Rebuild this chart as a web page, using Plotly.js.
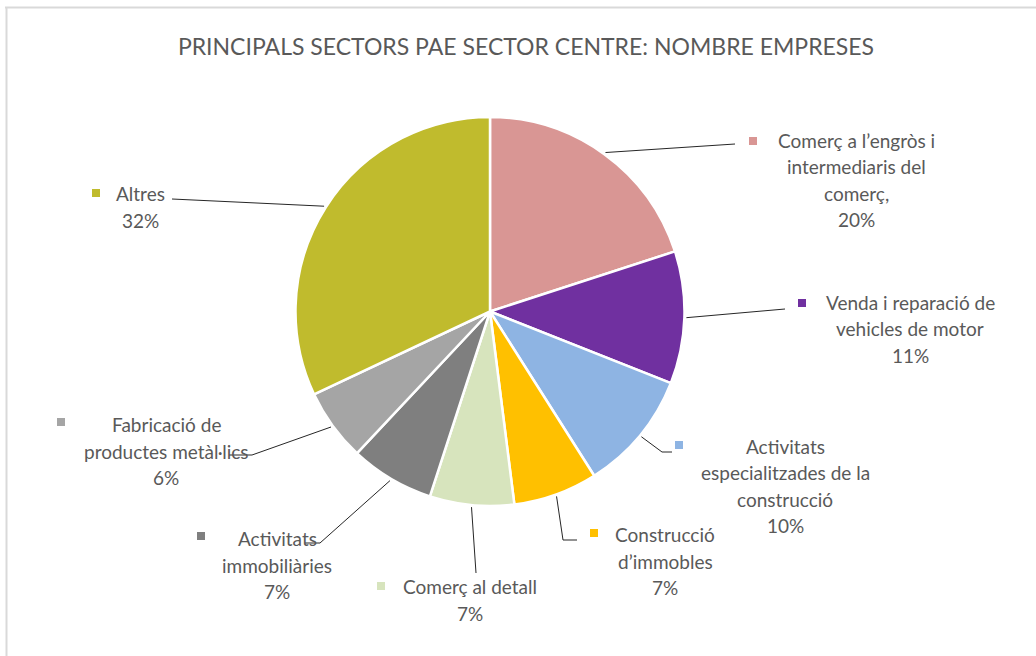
<!DOCTYPE html>
<html>
<head>
<meta charset="utf-8">
<script src="https://cdn.plot.ly/plotly-3.0.1.min.js"></script>
<style>html,body{margin:0;padding:0;background:#fff;}#chart{width:1036px;height:656px;}</style>
</head>
<body>
<div id="chart"></div>
<script>
// ---- data ----
const categories = [
  "Comerç a l’engròs i<br>intermediaris del<br>comerç,",
  "Venda i reparació de<br>vehicles de motor",
  "Activitats<br>especialitzades de la<br>construcció",
  "Construcció<br>d’immobles",
  "Comerç al detall",
  "Activitats<br>immobiliàries",
  "Fabricació de<br>productes metàl·lics",
  "Altres"
];
const values = [20, 11, 10, 7, 7, 7, 6, 32];
const colors = ["#D99694", "#7030A0", "#8EB4E3", "#FFC000", "#D7E4BD", "#7F7F7F", "#A5A5A5", "#C0BB2D"];
const titleText = "PRINCIPALS SECTORS PAE SECTOR CENTRE: NOMBRE EMPRESES";

// ---- layout constants (pixels) ----
const W = 1036, H = 656;
const CX = 490, CY = 311.5, R = 194.5;
const FONT = "Lato, 'Open Sans', sans-serif";
const TXT = "#595959";
const LH = 26.5;
// label block centers, legend-key positions, leader-line waypoints
const labelPos = [[856,180],[910,329],[785,486],[665,561],[470,600],[277,565],[166,451],[140,207]];
const keyPos = [[753,141],[802,303],[679,445],[594,533],[381,586],[201,536],[61,422],[96,193]];
const leaderPts = [
  [[735,144]],
  [[785,309]],
  [[662,452],[672,452]],
  [[563,540],[577,540]],
  [[476,573]],
  [[320,543],[305,543]],
  [[252,455],[229,455]],
  [[172,199]]
];

const px = x => x / W;
const py = y => 1 - y / H;

const total = values.reduce((a, b) => a + b, 0);

const trace = {
  type: "pie",
  values: values,
  labels: categories.map(c => c.replace(/<br>/g, " ")),
  sort: false,
  direction: "clockwise",
  rotation: 0,
  textinfo: "none",
  hoverinfo: "label+percent",
  marker: { colors: colors, line: { color: "#ffffff", width: 2.5 } },
  domain: { x: [px(CX - R), px(CX + R)], y: [py(CY + R), py(CY - R)] },
  showlegend: false
};

const annotations = [];
const shapes = [];

// frame
shapes.push({ type: "line", xref: "paper", yref: "paper", x0: px(5), x1: px(W), y0: py(7.5), y1: py(7.5), line: { color: "#D9D9D9", width: 2 } });
shapes.push({ type: "line", xref: "paper", yref: "paper", x0: px(6.5), x1: px(6.5), y0: py(7), y1: py(H), line: { color: "#D9D9D9", width: 2 } });

let cum = 0;
values.forEach((v, i) => {
  const mid = (cum + v / 2) / total * 2 * Math.PI;
  cum += v;
  // leader line start on slice edge
  const r0 = R + 2;
  let pts = [[CX + r0 * Math.sin(mid), CY - r0 * Math.cos(mid)]].concat(leaderPts[i]);
  for (let k = 0; k < pts.length - 1; k++) {
    shapes.push({ type: "line", xref: "paper", yref: "paper",
      x0: px(pts[k][0]), y0: py(pts[k][1]), x1: px(pts[k+1][0]), y1: py(pts[k+1][1]),
      line: { color: "#262626", width: 1 } });
  }
  // label lines
  const lines = categories[i].split("<br>").concat([Math.round(v / total * 100) + "%"]);
  const n = lines.length;
  lines.forEach((t, k) => {
    annotations.push({ xref: "paper", yref: "paper",
      x: px(labelPos[i][0]), y: py(labelPos[i][1] + (k - (n - 1) / 2) * LH),
      xanchor: "center", yanchor: "middle", showarrow: false, text: t,
      font: { family: FONT, size: 19, color: TXT } });
  });
  // legend key square
  shapes.push({ type: "rect", xref: "paper", yref: "paper",
    x0: px(keyPos[i][0] - 4), x1: px(keyPos[i][0] + 4), y0: py(keyPos[i][1] + 4), y1: py(keyPos[i][1] - 4),
    fillcolor: colors[i], line: { width: 0 } });
});

const layout = {
  width: W, height: H,
  margin: { l: 0, r: 0, t: 0, b: 0 },
  paper_bgcolor: "#ffffff",
  title: { text: titleText, x: px(526), xanchor: "center", y: py(47), yanchor: "middle", xref: "paper", yref: "paper",
    font: { family: FONT, size: 23, color: TXT } },
  annotations: annotations,
  shapes: shapes,
  showlegend: false
};

Plotly.newPlot("chart", [trace], layout, { displayModeBar: false, staticPlot: true });
</script>
</body>
</html>
